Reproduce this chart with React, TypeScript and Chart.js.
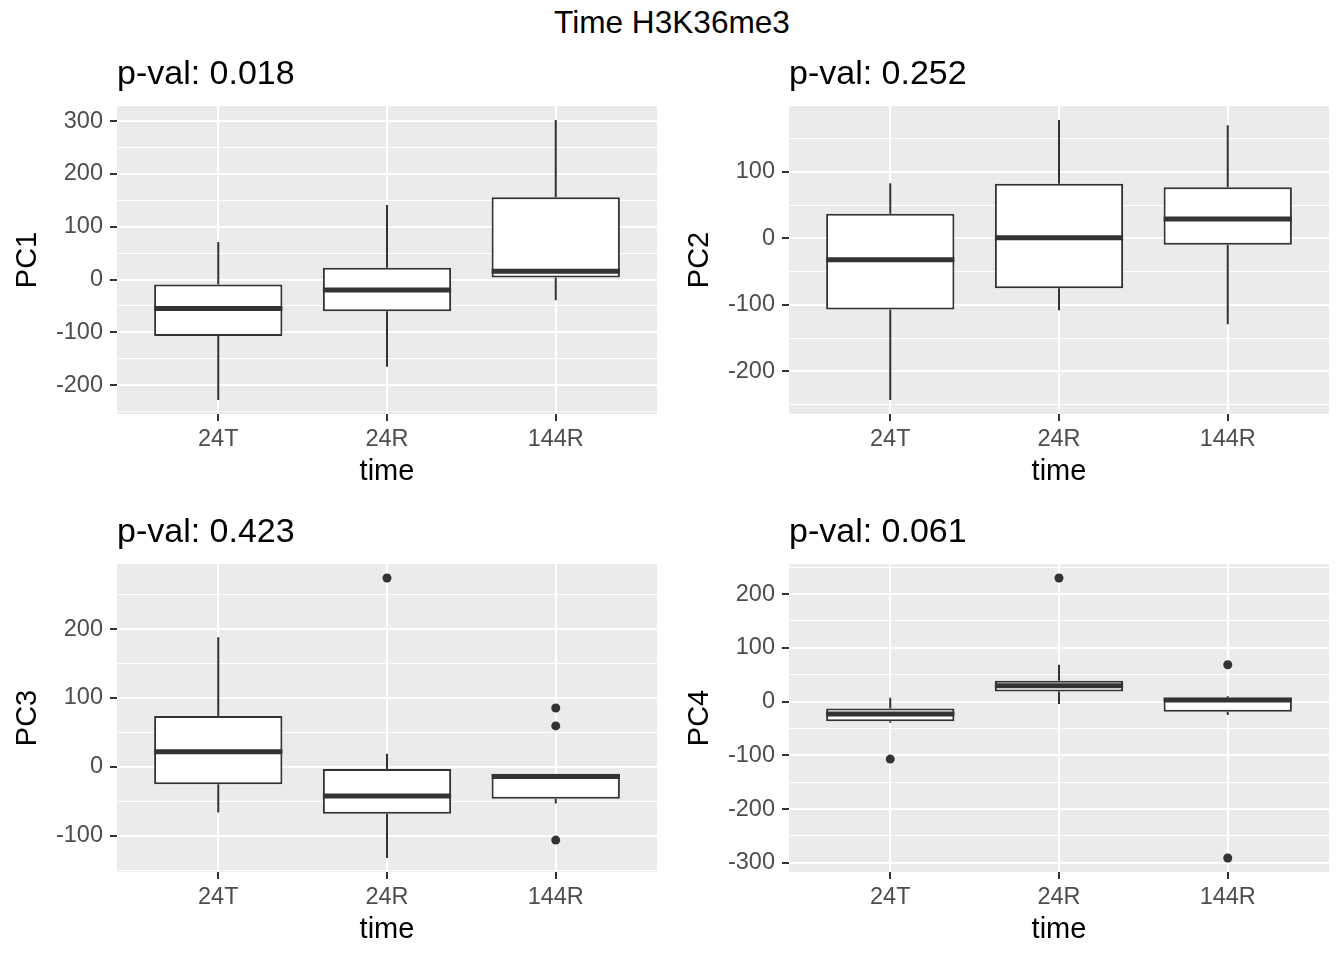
import React, { useEffect, useRef } from 'react';
import { Chart, registerables } from 'chart.js';

Chart.register(...registerables);

const MAIN_TITLE = 'Time H3K36me3';
const CATEGORIES = ['24T', '24R', '144R'];
const X_TITLE = 'time';

// PC1
const PC1_LOW = [-228, -165, -39];
const PC1_Q1 = [-107, -60, 3.8];
const PC1_MEDIAN = [-55, -20, 15.5];
const PC1_Q3 = [-9.5, 22.5, 156];
const PC1_HIGH = [71, 141, 302];
const PC1_OUTLIERS: number[][] = [[], [], []];

// PC2
const PC2_LOW = [-243, -108, -129];
const PC2_Q1 = [-107, -75, -9.5];
const PC2_MEDIAN = [-32, 1, 29];
const PC2_Q3 = [37, 82, 77];
const PC2_HIGH = [83, 178, 170];
const PC2_OUTLIERS: number[][] = [[], [], []];

// PC3
const PC3_LOW = [-66, -132, -53];
const PC3_Q1 = [-25, -68, -46];
const PC3_MEDIAN = [22, -42, -14];
const PC3_Q3 = [74, -3, -10];
const PC3_HIGH = [188, 19, -10];
const PC3_OUTLIERS: number[][] = [[], [274], [85.5, 59.5, -106]];

// PC4
const PC4_LOW = [-39.5, -4.3, -25];
const PC4_Q1 = [-36.4, 19, -19];
const PC4_MEDIAN = [-23, 29.6, 3];
const PC4_Q3 = [-13, 39, 7];
const PC4_HIGH = [7, 68.5, 10];
const PC4_OUTLIERS: number[][] = [[-107], [230], [68.5, -291]];

const P_VALUES = ['0.018', '0.252', '0.423', '0.061'];
const Y_TITLES = ['PC1', 'PC2', 'PC3', 'PC4'];

const FONT = "'Liberation Sans', Arial, 'DejaVu Sans', sans-serif";
const DARK = '#333333';

type Stats = {
  low: number[];
  q1: number[];
  median: number[];
  q3: number[];
  high: number[];
  outliers: number[][];
};

const PANELS: { stats: Stats; pval: string; yTitle: string; left: number; top: number }[] = [
  { stats: { low: PC1_LOW, q1: PC1_Q1, median: PC1_MEDIAN, q3: PC1_Q3, high: PC1_HIGH, outliers: PC1_OUTLIERS }, pval: P_VALUES[0], yTitle: Y_TITLES[0], left: 0, top: 44 },
  { stats: { low: PC2_LOW, q1: PC2_Q1, median: PC2_MEDIAN, q3: PC2_Q3, high: PC2_HIGH, outliers: PC2_OUTLIERS }, pval: P_VALUES[1], yTitle: Y_TITLES[1], left: 672, top: 44 },
  { stats: { low: PC3_LOW, q1: PC3_Q1, median: PC3_MEDIAN, q3: PC3_Q3, high: PC3_HIGH, outliers: PC3_OUTLIERS }, pval: P_VALUES[2], yTitle: Y_TITLES[2], left: 0, top: 502 },
  { stats: { low: PC4_LOW, q1: PC4_Q1, median: PC4_MEDIAN, q3: PC4_Q3, high: PC4_HIGH, outliers: PC4_OUTLIERS }, pval: P_VALUES[3], yTitle: Y_TITLES[3], left: 672, top: 502 },
];

const CANVAS_W = 672;
const CANVAS_H = 455;

function makeBoxPlugin(stats: Stats) {
  return {
    id: 'ggbox',
    beforeDraw(chart: any) {
      const { ctx, chartArea: a } = chart;
      ctx.save();
      ctx.fillStyle = '#EBEBEB';
      ctx.fillRect(a.left, a.top, a.right - a.left, a.bottom - a.top);
      ctx.restore();
    },
    beforeDatasetsDraw(chart: any) {
      const { ctx } = chart;
      const ys = chart.scales.y;
      const meta = chart.getDatasetMeta(0);
      ctx.save();
      ctx.strokeStyle = DARK;
      ctx.lineWidth = 2;
      ctx.lineCap = 'butt';
      meta.data.forEach((el: any, i: number) => {
        const px = el.x;
        ctx.beginPath();
        ctx.moveTo(px, ys.getPixelForValue(stats.q3[i]));
        ctx.lineTo(px, ys.getPixelForValue(stats.high[i]));
        ctx.moveTo(px, ys.getPixelForValue(stats.q1[i]));
        ctx.lineTo(px, ys.getPixelForValue(stats.low[i]));
        ctx.stroke();
      });
      ctx.restore();
    },
    afterDatasetDraw(chart: any, args: any) {
      if (args.index !== 0) return;
      const { ctx } = chart;
      const ys = chart.scales.y;
      ctx.save();
      ctx.strokeStyle = DARK;
      ctx.lineWidth = 5;
      ctx.lineCap = 'butt';
      args.meta.data.forEach((el: any, i: number) => {
        const w = el.width;
        const py = ys.getPixelForValue(stats.median[i]);
        ctx.beginPath();
        ctx.moveTo(el.x - w / 2, py);
        ctx.lineTo(el.x + w / 2, py);
        ctx.stroke();
      });
      ctx.restore();
    },
  };
}

function Panel({ stats, pval, yTitle, left, top }: { stats: Stats; pval: string; yTitle: string; left: number; top: number }) {
  const ref = useRef<HTMLCanvasElement | null>(null);
  useEffect(() => {
    if (!ref.current) return;
    const all: number[] = [...stats.low, ...stats.high, ...stats.outliers.flat()];
    const dmin = Math.min(...all);
    const dmax = Math.max(...all);
    const pad = (dmax - dmin) * 0.05;
    const ymin = dmin - pad;
    const ymax = dmax + pad;

    const boxData = CATEGORIES.map((_, i) => ({ x: i + 1, y: [stats.q1[i], stats.q3[i]] }));
    const outlierData: { x: number; y: number }[] = [];
    stats.outliers.forEach((arr, i) => arr.forEach((v) => outlierData.push({ x: i + 1, y: v })));

    const chart = new Chart(ref.current, {
      type: 'bar',
      data: {
        datasets: [
          {
            type: 'bar',
            data: boxData as any,
            backgroundColor: '#FFFFFF',
            borderColor: DARK,
            borderWidth: 2,
            borderSkipped: false,
            barPercentage: 0.76,
            categoryPercentage: 1,
            order: 1,
          } as any,
          {
            type: 'scatter',
            data: outlierData as any,
            pointRadius: 4.5,
            pointBackgroundColor: DARK,
            pointBorderWidth: 0,
            showLine: false,
            order: 0,
          } as any,
        ],
      },
      options: {
        animation: false,
        responsive: false,
        devicePixelRatio: 1,
        layout: { padding: { left: 0, right: 15, top: 0, bottom: 0 } },
        plugins: {
          legend: { display: false },
          tooltip: { enabled: false },
          title: {
            display: true,
            text: 'p-val: ' + pval,
            align: 'start',
            fullSize: false,
            color: '#000000',
            font: { family: FONT, size: 34, weight: 'normal' },
            padding: { top: 9.8, bottom: 11.4 },
          } as any,
        },
        scales: {
          x: {
            type: 'linear',
            min: 0.4,
            max: 3.6,
            offset: false,
            afterBuildTicks: (s: any) => {
              s.ticks = CATEGORIES.map((_, i) => ({ value: i + 1 }));
            },
            afterFit: (s: any) => {
              s.height = 85;
            },
            ticks: {
              autoSkip: false,
              maxRotation: 0,
              minRotation: 0,
              padding: 4.4,
              color: '#4D4D4D',
              font: { family: FONT, size: 23.5 },
              callback: (v: any) => CATEGORIES[Math.round(Number(v)) - 1] ?? '',
            },
            grid: {
              offset: false,
              color: '#FFFFFF',
              lineWidth: 2,
              tickColor: DARK,
              tickLength: 7,
              tickWidth: 2,
            },
            border: { display: false },
            title: {
              display: true,
              text: X_TITLE,
              color: '#000000',
              font: { family: FONT, size: 29 },
              padding: { top: 0, bottom: 9.6 },
            },
          } as any,
          y: {
            type: 'linear',
            min: ymin,
            max: ymax,
            afterBuildTicks: (s: any) => {
              const t: { value: number }[] = [];
              for (let v = Math.ceil(ymin / 50) * 50; v <= ymax; v += 50) t.push({ value: v });
              s.ticks = t;
            },
            afterFit: (s: any) => {
              s.width = 117;
            },
            ticks: {
              autoSkip: false,
              padding: 7,
              color: '#4D4D4D',
              font: { family: FONT, size: 23.5 },
              callback: (v: any) => (Number(v) % 100 === 0 ? String(v) : ''),
            },
            grid: {
              color: '#FFFFFF',
              lineWidth: (c: any) => (c.tick && c.tick.value % 100 === 0 ? 2 : 1),
              tickColor: (c: any) => (c.tick && c.tick.value % 100 === 0 ? DARK : 'rgba(0,0,0,0)'),
              tickLength: 7,
              tickWidth: 2,
            },
            border: { display: false },
            title: {
              display: true,
              text: yTitle,
              color: '#000000',
              font: { family: FONT, size: 29 },
              padding: { top: 10.6, bottom: 0 },
            },
          } as any,
        },
      },
      plugins: [makeBoxPlugin(stats) as any],
    });
    return () => chart.destroy();
  }, [stats, pval, yTitle]);

  return (
    <canvas
      ref={ref}
      width={CANVAS_W}
      height={CANVAS_H}
      style={{ position: 'absolute', left, top, width: CANVAS_W, height: CANVAS_H }}
    />
  );
}

export default function App() {
  return (
    <div style={{ position: 'absolute', left: 0, top: 0, width: 1344, height: 960, background: '#FFFFFF', overflow: 'hidden' }}>
      <div
        style={{
          position: 'absolute',
          left: 0,
          top: 6.5,
          width: 1344,
          textAlign: 'center',
          fontFamily: FONT,
          fontSize: 31.6,
          lineHeight: '31.6px',
          color: '#000000',
        }}
      >
        {MAIN_TITLE}
      </div>
      {PANELS.map((p, i) => (
        <Panel key={i} stats={p.stats} pval={p.pval} yTitle={p.yTitle} left={p.left} top={p.top} />
      ))}
    </div>
  );
}
